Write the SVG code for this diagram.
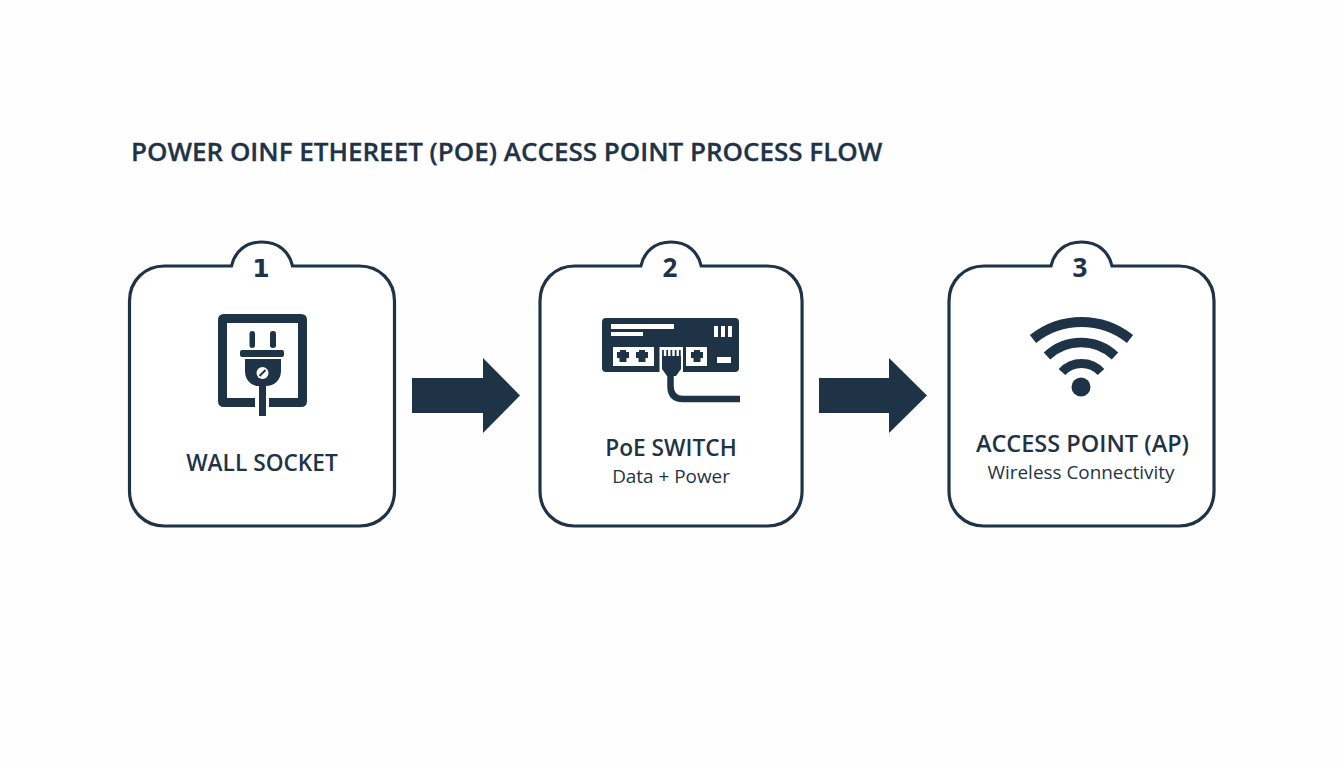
<svg xmlns="http://www.w3.org/2000/svg" width="1344" height="768" viewBox="0 0 1344 768">
<style>
.card{fill:#fff;stroke:#1f3347;stroke-width:3.200}
.ink{fill:#1f3347}
.wh{fill:#fff}
.line{fill:none;stroke:#1f3347}
text{font-family:"Open Sans","Noto Sans",sans-serif;fill:#1f3347;text-anchor:middle}
.title{font-size:26px;font-weight:600;text-anchor:start;stroke:#1f3347;stroke-width:0.300}
.head{font-size:22.700px;font-weight:600}
.head2{font-size:23.500px;font-weight:600}
.sub{font-size:18.900px;font-weight:400}
.num{font-size:26px;font-weight:700}
.num1{font-family:"DejaVu Sans",sans-serif;font-size:25px;font-weight:700}
</style>
<defs>
<path id="cardshape" d="M35 0H102C105 -14 116 -24 132.500 -24C149 -24 160 -14 163 0H230C250 0 265 15 265 35V225C265 245 250 260 230 260H35C15 260 0 245 0 225V35C0 15 15 0 35 0Z"/>
<path id="rj" d="M3 0H9V2H12V8H9.500V12H2.500V8H0V2H3Z"/>
</defs>
<rect width="1344" height="768" fill="#fefefe"/>
<text id="title" class="title" x="131" y="161">POWER OINF ETHEREET (POE) ACCESS POINT PROCESS FLOW</text>
<g id="node1">
<use href="#cardshape" class="card" x="129.500" y="266"/>
<text class="num1" x="261" y="276.500">1</text>
<path class="ink" d="M224 314H301Q307 314 307 320V401Q307 407 301 407H269V398H298V323H227V398H255V407H224Q218 407 218 401V320Q218 314 224 314Z"/>
<rect class="ink" x="249.500" y="331" width="5.500" height="17" rx="2.700"/>
<rect class="ink" x="270" y="331" width="6" height="17" rx="2.700"/>
<rect class="ink" x="240" y="350" width="44" height="7" rx="2"/>
<path class="ink" d="M245 359H281V371C281 380 274 386 266 386V416H259V386C251 386 245 380 245 371Z"/>
<circle class="wh" cx="262.500" cy="373" r="6"/>
<path d="M259.500 376L265.500 370" stroke="#1f3347" stroke-width="2"/>
<text class="head" x="262" y="471">WALL SOCKET</text>
</g>
<g id="node2">
<use href="#cardshape" class="card" x="540" y="266" transform="translate(540 0) scale(0.989 1) translate(-540 0)"/>
<text class="num" x="670" y="277">2</text>
<rect class="ink" x="602" y="318" width="137" height="54" rx="4"/>
<rect class="wh" x="611" y="324" width="63" height="5"/>
<rect class="wh" x="611" y="332" width="32" height="4"/>
<rect class="wh" x="714" y="326" width="4" height="11"/>
<rect class="wh" x="721" y="326" width="4" height="11"/>
<rect class="wh" x="728" y="326" width="4" height="11"/>
<rect class="wh" x="717" y="357" width="14" height="6"/>
<rect class="wh" x="613" y="347" width="41" height="19"/>
<rect class="wh" x="686" y="347" width="21" height="19"/>
<use href="#rj" class="ink" x="617" y="350"/>
<use href="#rj" class="ink" x="636" y="350"/>
<use href="#rj" class="ink" x="691" y="350"/>
<path class="wh" d="M659.500 347H683V372H659.500Z"/>
<path class="ink" d="M662 356H681V369L676 376H667L662 369Z"/>
<path d="M663 350V358M667.200 350V358M671.400 350V358M675.600 350V358M679.800 350V358" stroke="#1f3347" stroke-width="1.800"/>
<path class="line" stroke-width="6.500" d="M670.500 375V386Q670.500 399 683 399H740"/>
<text class="head" x="671" y="456">PoE SWITCH</text>
<text class="sub" x="671" y="483">Data + Power</text>
</g>
<g id="node3">
<use href="#cardshape" class="card" x="949" y="266"/>
<text class="num" x="1080" y="277">3</text>
<path class="line" stroke-width="10" d="M1033 339A77.700 77.700 0 0 1 1130 339"/>
<path class="line" stroke-width="9.500" d="M1047 356A49.600 49.600 0 0 1 1115 356"/>
<path class="line" stroke-width="9" d="M1062 372A26.600 26.600 0 0 1 1101 372"/>
<circle class="ink" cx="1081" cy="387" r="9.500"/>
<text class="head2" x="1082.500" y="452">ACCESS POINT (AP)</text>
<text class="sub" x="1081" y="479">Wireless Connectivity</text>
</g>
<g id="connectors">
<path class="ink" d="M412 378H483V358L520 395.500L483 433V413H412Z"/>
<path class="ink" d="M819 378H889V358L927 395.500L889 433V413H819Z"/>
</g>
</svg>
